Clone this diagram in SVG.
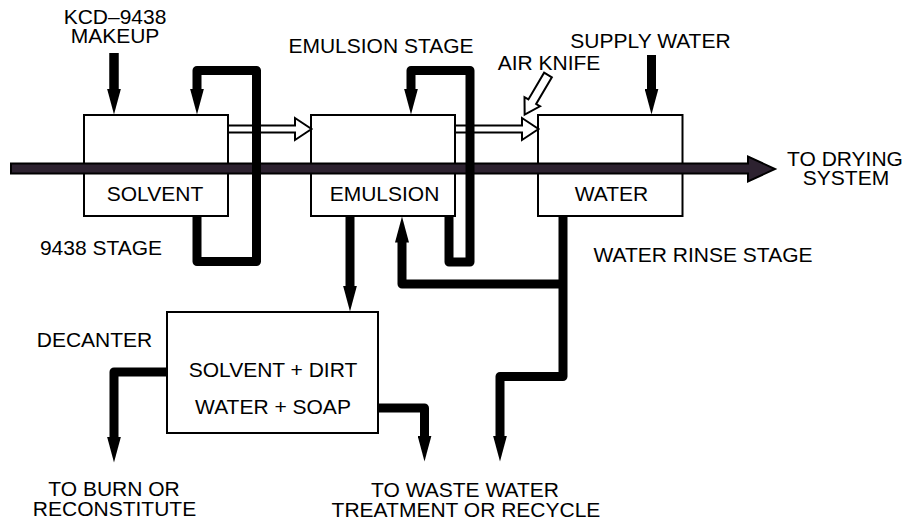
<svg xmlns="http://www.w3.org/2000/svg" width="906" height="523" viewBox="0 0 906 523">
<defs>
<style>
.box{fill:#fff;stroke:#000;stroke-width:2}
.pipe{fill:none;stroke:#000;stroke-width:9;stroke-linejoin:round;stroke-linecap:butt}
.hollow{fill:#fff;stroke:#000;stroke-width:2;stroke-linejoin:miter}
text{font-family:"Liberation Sans",Arial,sans-serif;font-size:21px;fill:#000;text-anchor:middle}
</style>
<marker id="ah" markerUnits="userSpaceOnUse" viewBox="0 0 26 14" markerWidth="26" markerHeight="14" refX="0.5" refY="7" orient="auto">
<path d="M0,0 L26,7 L0,14 Z" fill="#000"/>
</marker>
</defs>
<rect width="906" height="523" fill="#fff"/>

<g id="solvent">
<rect class="box" x="84" y="115" width="144" height="101"/>
<text x="155" y="201">SOLVENT</text>
</g>
<g id="emulsion">
<rect class="box" x="311" y="115" width="144" height="101"/>
<text x="384.5" y="201">EMULSION</text>
</g>
<g id="water">
<rect class="box" x="538" y="115" width="144.5" height="101"/>
<text x="611.5" y="201">WATER</text>
</g>
<g id="decanter">
<rect class="box" x="167" y="312" width="211" height="121"/>
<text x="273" y="377">SOLVENT + DIRT</text>
<text x="273" y="414">WATER + SOAP</text>
</g>

<g id="strip">
<polygon points="11,163.5 748,163.5 748,156.5 775,169 748,181.5 748,173.5 11,173.5" fill="#2d2230" stroke="#000" stroke-width="2"/>
</g>

<g id="connectors">
<polygon class="hollow" points="228,125.5 295,125.5 295,118 311.5,129 295,140 295,132.5 228,132.5"/>
<polygon class="hollow" points="455,125.5 522,125.5 522,118 538.5,129 522,140 522,132.5 455,132.5"/>
<g transform="translate(548,75) rotate(120.5)">
<polygon class="hollow" points="0,-4.5 31,-4.5 31,-9 46,0 31,9 31,4.5 0,4.5"/>
</g>
<path class="pipe" d="M114,53 V89" stroke-linecap="round" marker-end="url(#ah)"/>
<path class="pipe" d="M114,53 V89" stroke-linecap="round"/>
<path class="pipe" d="M197,216 V261.5 H256.5 V70.5 H197 V89" marker-end="url(#ah)"/>
<path class="pipe" d="M449,216 V262 H470 V70.5 H411 V89" marker-end="url(#ah)"/>
<path class="pipe" d="M651.5,55 V89" stroke-linecap="round" marker-end="url(#ah)"/>
<path class="pipe" d="M350,216 V286" marker-end="url(#ah)"/>
<path class="pipe" d="M563,216 V376.5 H500 V436" marker-end="url(#ah)"/>
<path class="pipe" d="M563,284 H402 V242" marker-end="url(#ah)"/>
<path class="pipe" d="M167,372 H114 V437" marker-end="url(#ah)"/>
<path class="pipe" d="M378,408 H424.5 V436" marker-end="url(#ah)"/>
</g>

<g id="labels">
<text x="115" y="24">KCD–9438</text>
<text x="115" y="43">MAKEUP</text>
<text x="381" y="53">EMULSION STAGE</text>
<text x="549" y="70">AIR KNIFE</text>
<text x="650.5" y="48">SUPPLY WATER</text>
<text x="845" y="166">TO DRYING</text>
<text x="846" y="185">SYSTEM</text>
<text x="101" y="255">9438 STAGE</text>
<text x="703" y="262">WATER RINSE STAGE</text>
<text x="94.5" y="347">DECANTER</text>
<text x="114" y="496">TO BURN OR</text>
<text x="114.5" y="516">RECONSTITUTE</text>
<text x="465" y="497">TO WASTE WATER</text>
<text x="466" y="517">TREATMENT OR RECYCLE</text>
</g>
</svg>
